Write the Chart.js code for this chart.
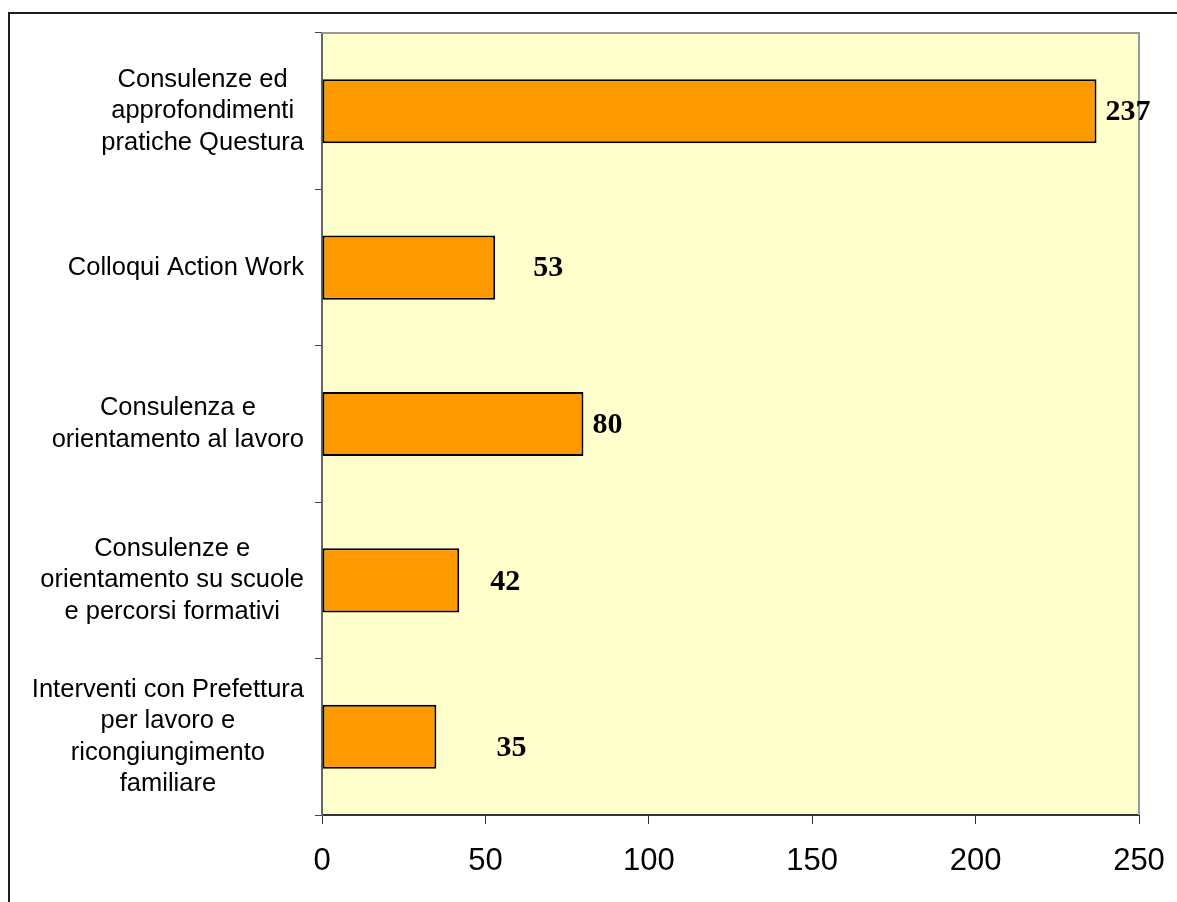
<!DOCTYPE html>
<html>
<head>
<meta charset="utf-8">
<script src="https://cdn.jsdelivr.net/npm/chart.js@4"></script>
<style>
  html, body { margin: 0; padding: 0; background: #fff; }
  #wrap { position: relative; width: 1177px; height: 902px; overflow: hidden; }
  #frame { position: absolute; left: 8px; top: 12px; width: 1220px; height: 940px;
           border-left: 2px solid #1e1e1e; border-top: 2px solid #1e1e1e; }
  canvas { position: absolute; left: 0; top: 0; }
</style>
</head>
<body>
<div id="wrap">
  <div id="frame"></div>
  <canvas id="c" width="1177" height="902"></canvas>
</div>
<script>
// Activity categories (one entry per bar, split into display lines)
const categories = [
  ['Consulenze ed', 'approfondimenti', 'pratiche Questura'],
  ['Colloqui Action Work'],
  ['Consulenza e', 'orientamento al lavoro'],
  ['Consulenze e', 'orientamento su scuole', 'e percorsi formativi'],
  ['Interventi con Prefettura', 'per lavoro e', 'ricongiungimento', 'familiare']
];
// Number of interventions per category
const values = [237, 53, 80, 42, 35];
// Horizontal axis ticks
const xTicks = [0, 50, 100, 150, 200, 250];

// Fill the plot area and outline its top and right edges
const plotArea = {
  id: 'plotArea',
  beforeDraw(chart) {
    const { ctx, chartArea: a } = chart;
    ctx.save();
    ctx.fillStyle = '#FFFFCC';
    ctx.fillRect(a.left, a.top, a.right - a.left, a.bottom - a.top);
    ctx.restore();
  },
  beforeDatasetsDraw(chart) {
    const { ctx, chartArea: a } = chart;
    ctx.save();
    ctx.strokeStyle = '#999999';
    ctx.lineWidth = 2;
    ctx.beginPath();
    ctx.moveTo(a.left, a.top);
    ctx.lineTo(a.right, a.top);
    ctx.lineTo(a.right, a.bottom);
    ctx.stroke();
    ctx.restore();
  }
};

// Category names: each block right-aligned, its lines centred within the block
const categoryLabels = {
  id: 'categoryLabels',
  afterDraw(chart, args, opts) {
    const { ctx } = chart;
    const yScale = chart.scales.y;
    ctx.save();
    ctx.font = opts.font;
    ctx.fillStyle = '#000';
    ctx.textAlign = 'center';
    ctx.textBaseline = 'middle';
    categories.forEach((lines, i) => {
      const cy = yScale.getPixelForTick(i);
      const widest = Math.max(...lines.map(l => ctx.measureText(l).width));
      const cx = opts.blockRight - widest / 2;
      lines.forEach((line, j) => {
        ctx.fillText(line, cx, cy + (j - (lines.length - 1) / 2) * opts.lineHeight);
      });
    });
    ctx.restore();
  }
};

// Value labels next to each bar
const valueLabels = {
  id: 'valueLabels',
  afterDatasetsDraw(chart, args, opts) {
    const { ctx } = chart;
    const meta = chart.getDatasetMeta(0);
    ctx.save();
    ctx.font = opts.font;
    ctx.fillStyle = '#000';
    ctx.textAlign = 'left';
    ctx.textBaseline = 'middle';
    meta.data.forEach((bar, i) => {
      const v = chart.data.datasets[0].data[i];
      const [dx, dy] = opts.shift[i];
      ctx.fillText(String(v), bar.x + dx, bar.y + dy);
    });
    ctx.restore();
  }
};

new Chart(document.getElementById('c'), {
  type: 'bar',
  data: {
    labels: categories.map(l => l.join(' ')),
    datasets: [{
      data: values,
      backgroundColor: '#FF9900',
      borderColor: '#000000',
      borderWidth: 2,
      borderSkipped: false,
      barPercentage: 0.41,
      categoryPercentage: 1
    }]
  },
  options: {
    indexAxis: 'y',
    responsive: false,
    devicePixelRatio: 1,
    animation: false,
    layout: { padding: { top: 33, right: 38, left: 0, bottom: 0 } },
    plugins: {
      legend: { display: false },
      tooltip: { enabled: false },
      categoryLabels: { font: '25.5px "Liberation Sans", Arial, sans-serif', blockRight: 304, lineHeight: 31.5 },
      valueLabels: {
        font: 'bold 30px "Liberation Serif", "Times New Roman", serif',
        shift: [[9, 1], [38, 1], [9, 1], [31, 2], [60, 11]]
      }
    },
    scales: {
      x: {
        type: 'linear',
        min: xTicks[0],
        max: xTicks[xTicks.length - 1],
        afterBuildTicks(axis) { axis.ticks = xTicks.map(v => ({ value: v })); },
        afterFit(axis) {
          axis.height = 87;
          axis.paddingLeft = 0;
          axis.paddingRight = 0;
        },
        grid: { drawOnChartArea: false, drawTicks: true, tickLength: 9, color: '#333333', lineWidth: 1 },
        border: { display: true, color: '#333333', width: 2 },
        ticks: {
          color: '#000',
          padding: 19,
          font: { family: '"Liberation Sans", Arial, sans-serif', size: 31 }
        }
      },
      y: {
        type: 'category',
        afterFit(axis) { axis.width = 322; },
        grid: { offset: true, drawOnChartArea: false, drawTicks: true, tickLength: 7, color: '#444444', lineWidth: 1 },
        border: { display: true, color: '#666666', width: 2 },
        ticks: { display: false }
      }
    }
  },
  plugins: [plotArea, categoryLabels, valueLabels]
});
</script>
</body>
</html>
